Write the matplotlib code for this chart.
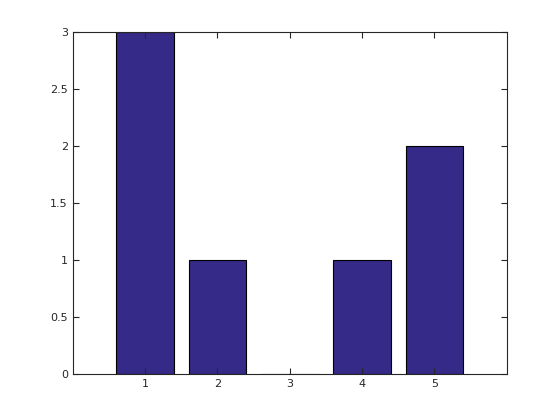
import matplotlib
matplotlib.use("Agg")
import matplotlib.pyplot as plt

categories = [1, 2, 3, 4, 5]
values = [3, 1, 0, 1, 2]
yticks = [0, 0.5, 1, 1.5, 2, 2.5, 3]
yticklabels = ["0", "0.5", "1", "1.5", "2", "2.5", "3"]

fig = plt.figure(figsize=(5.6, 4.2), dpi=100)
ax = fig.add_axes([0.13, 0.11, 0.775, 0.815])
ax.bar(categories, values, width=0.8, color="#352a87", edgecolor="black", linewidth=0.8)
ax.set_xlim(0, 6)
ax.set_ylim(0, 3)
ax.set_xticks(categories)
ax.set_xticklabels([str(c) for c in categories])
ax.set_yticks(yticks)
ax.set_yticklabels(yticklabels)
ax.tick_params(direction="in", top=True, right=True, labelsize=8, length=4, width=0.8, colors="#262626")
for s in ax.spines.values():
    s.set_color("#262626")
    s.set_linewidth(0.8)
fig.savefig("out.png", dpi=100)
